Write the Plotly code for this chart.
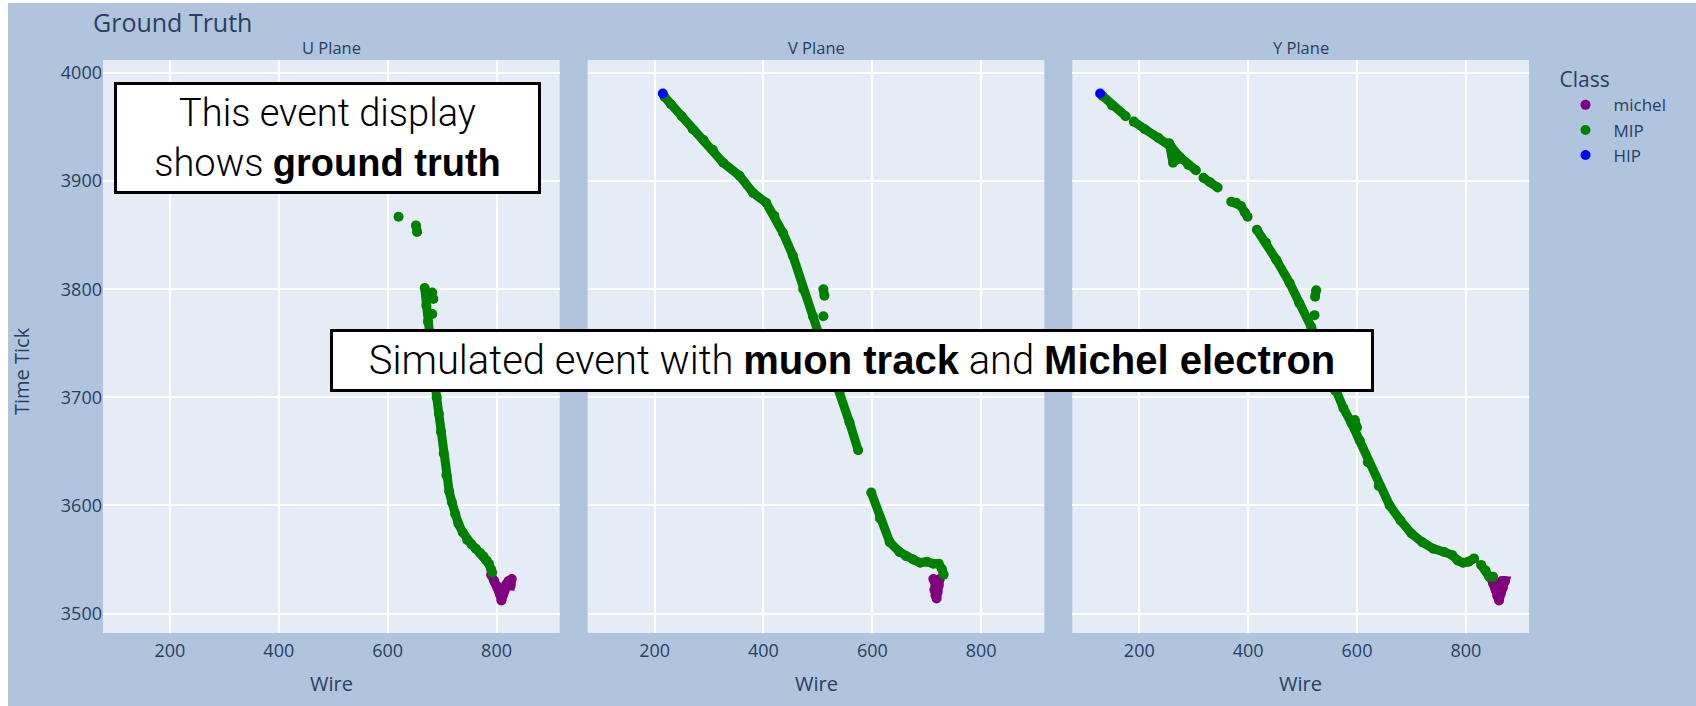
import plotly.graph_objects as go
from plotly.subplots import make_subplots

# ---------------- data (wire, time tick) ----------------
PLANES = ["U Plane", "V Plane", "Y Plane"]
CLASSES = ["michel", "MIP", "HIP"]
CLASS_COLORS = {"michel": "#800080", "MIP": "#008000", "HIP": "#0000FF"}

# U plane
U_MICHEL_WIRE = [790, 796, 802, 806, 809, 812, 816, 822, 828, 826, 818]
U_MICHEL_TIME = [3536, 3530, 3525, 3518, 3512, 3518, 3524, 3530, 3532, 3526, 3527]
U_MIP_WIRE = [620, None, 652, 654, None, 682, None, 684, None, 682, None,
              668, 671, 674, 678, 682, 686, 690, 694, 698, 703, 708, 713, 718, 724,
              730, 738, 746, 754, 762, 770, 776, 782, 786, 790, 792]
U_MIP_TIME = [3867, None, 3859, 3853, None, 3797, None, 3791, None, 3777, None,
              3801, 3785, 3770, 3750, 3730, 3715, 3700, 3685, 3668, 3648, 3628, 3613, 3603, 3592,
              3583, 3575, 3568, 3564, 3560, 3556, 3553, 3549, 3546, 3541, 3538]
U_HIP_WIRE = []
U_HIP_TIME = []

# V plane
V_MICHEL_WIRE = [712, 716, 714, 716, 718, 720, 722, 724]
V_MICHEL_TIME = [3532, 3527, 3522, 3517, 3514, 3520, 3526, 3532]
V_MIP_WIRE = [218, 230, 250, 270, 290, 307, 326, 356, 381, 405, 420, 436, 454, 473, 491,
              503, 515, 528, 540, 558, 574, None,
              598, 614, 632, 650, 662, 675, 688, 700, 712, 722, 728, 731, None,
              510, 512, None, 510]
V_MIP_TIME = [3978, 3971, 3960, 3948, 3938, 3929, 3917, 3905, 3889, 3880, 3868, 3852, 3831, 3800, 3775,
              3756, 3738, 3721, 3705, 3677, 3651, None,
              3612, 3588, 3566, 3557, 3553, 3550, 3547, 3548, 3546, 3546, 3541, 3536, None,
              3800, 3794, None, 3775]
V_HIP_WIRE = [215]
V_HIP_TIME = [3981]

# Y plane
Y_MICHEL_WIRE = [846, 850, 855, 858, 861, 864, 868, 872, 866]
Y_MICHEL_TIME = [3533, 3528, 3522, 3516, 3512, 3518, 3524, 3530, 3530]
Y_MIP_WIRE = [132, 150, 175, None,
              190, 210, 235, 258, 275, 290, 304, None,
              255, 261, 262, None, 270, None,
              318, 330, 344, None,
              369, 378, 387, 394, 399, None,
              416, 433, 452, 476, 494, 516, 530, 545, 560, 575, 590, 605, 620, 640, 660,
              680, 700, 720, 740, 760, 775, 785, 795, 805, 815, None,
              828, 836, 843, 850, None,
              525, 523, None, 522, None, 596, 600]
Y_MIP_TIME = [3979, 3970, 3960, None,
              3955, 3948, 3940, 3932, 3922, 3915, 3910, None,
              3935, 3923, 3917, None, 3920, None,
              3903, 3899, 3894, None,
              3881, 3880, 3877, 3871, 3867, None,
              3855, 3843, 3827, 3806, 3787, 3765, 3745, 3725, 3706, 3690, 3676, 3660, 3640, 3618, 3600,
              3586, 3574, 3566, 3560, 3557, 3554, 3549, 3547, 3548, 3551, None,
              3545, 3540, 3534, 3534, None,
              3799, 3793, None, 3776, None, 3679, 3672]
Y_HIP_WIRE = [128]
Y_HIP_TIME = [3981]

PANEL_DATA = [
    {"michel": (U_MICHEL_WIRE, U_MICHEL_TIME), "MIP": (U_MIP_WIRE, U_MIP_TIME), "HIP": (U_HIP_WIRE, U_HIP_TIME)},
    {"michel": (V_MICHEL_WIRE, V_MICHEL_TIME), "MIP": (V_MIP_WIRE, V_MIP_TIME), "HIP": (V_HIP_WIRE, V_HIP_TIME)},
    {"michel": (Y_MICHEL_WIRE, Y_MICHEL_TIME), "MIP": (Y_MIP_WIRE, Y_MIP_TIME), "HIP": (Y_HIP_WIRE, Y_HIP_TIME)},
]

X_RANGE = [77, 916]
Y_RANGE = [3482, 4012]

# ---------------- figure ----------------
# The page body is given a small white margin (8px left, 3px top) like the reference,
# so figure pixels are offset from window pixels by (OFFX, OFFY).
OFFX, OFFY = 8, 3
W, H = 1696 - OFFX, 706 - OFFY
ML, MR, MT, MB = 103 - OFFX, 167, 60 - OFFY, 73
PW = W - ML - MR
PH = H - MT - MB


def sx(p):  # window x (px) -> paper x
    return (p - OFFX - ML) / PW


def sy(p):  # window y (px) -> paper y
    return (MT + PH - (p - OFFY)) / PH


fig = make_subplots(rows=1, cols=3, shared_yaxes=True, horizontal_spacing=28 / PW)

MS = 10
legend_done = set()
for i, pdata in enumerate(PANEL_DATA):
    for cls in CLASSES:
        xs, ys = pdata[cls]
        col = CLASS_COLORS[cls]
        show = bool(xs) and cls not in legend_done
        if show:
            legend_done.add(cls)
        fig.add_trace(go.Scatter(x=xs, y=ys, mode="lines", line=dict(color=col, width=9),
                                 showlegend=False, hoverinfo="skip", legendgroup=cls,
                                 connectgaps=False), row=1, col=i + 1)
        fig.add_trace(go.Scatter(x=xs, y=ys, mode="markers", name=cls,
                                 marker=dict(color=col, size=MS),
                                 legendgroup=cls, showlegend=show,
                                 legendrank=CLASSES.index(cls) + 1), row=1, col=i + 1)

TICK_FONT = dict(family="Open Sans", size=18, color="#2a3f5f")
for i in range(3):
    fig.update_xaxes(range=X_RANGE, dtick=200, tick0=0, showgrid=True, gridcolor="white",
                     gridwidth=1.5, zeroline=False, tickfont=TICK_FONT, ticklabelstandoff=5,
                     row=1, col=i + 1)
fig.update_yaxes(range=Y_RANGE, dtick=100, tick0=0, showgrid=True, gridcolor="white",
                 gridwidth=1.5, zeroline=False, tickfont=TICK_FONT)

annotations = []
doms = [fig.layout.xaxis.domain, fig.layout.xaxis2.domain, fig.layout.xaxis3.domain]
for name, d in zip(PLANES, doms):
    cx = (d[0] + d[1]) / 2
    annotations.append(dict(text=name, x=cx, y=sy(47.5), xref="paper", yref="paper",
                            showarrow=False, xanchor="center", yanchor="middle",
                            font=dict(family="Open Sans", size=16.5, color="#2a3f5f")))
    annotations.append(dict(text="Wire", x=cx, y=sy(683), xref="paper", yref="paper",
                            showarrow=False, xanchor="center", yanchor="middle",
                            font=dict(family="Open Sans", size=20, color="#2a3f5f")))
annotations.append(dict(text="Time Tick", x=sx(22), y=sy(371), xref="paper", yref="paper",
                        showarrow=False, textangle=-90, xanchor="center", yanchor="middle",
                        font=dict(family="Open Sans", size=20, color="#2a3f5f")))

BOLD = "<b><span style='font-family:Liberation Sans, Arial, sans-serif'>{}</span></b>"
BOX_FAMILY = "Roboto, Liberation Sans, Arial, sans-serif"
annotations.append(dict(text="This event display<br>shows " + BOLD.format("ground truth"),
                        x=sx(114), y=sy(82), xref="paper", yref="paper",
                        xanchor="left", yanchor="top", showarrow=False, align="center", valign="middle",
                        width=421, height=106, bgcolor="white", bordercolor="black",
                        borderwidth=3, borderpad=0,
                        font=dict(family=BOX_FAMILY, size=38, color="black", weight=300)))
annotations.append(dict(text="Simulated event with " + BOLD.format("muon track") + " and "
                             + BOLD.format("Michel electron"),
                        x=sx(330), y=sy(329), xref="paper", yref="paper",
                        xanchor="left", yanchor="top", showarrow=False, align="center", valign="middle",
                        width=1038, height=57, bgcolor="white", bordercolor="black",
                        borderwidth=3, borderpad=0,
                        font=dict(family=BOX_FAMILY, size=40, color="black", weight=300)))

fig.update_layout(
    width=W, height=H, autosize=False,
    margin=dict(l=ML, r=MR, t=MT, b=MB),
    paper_bgcolor="#B0C4DE", plot_bgcolor="#E5ECF6",
    font=dict(family="Open Sans", color="#2a3f5f"),
    title=dict(text="Ground Truth", x=(93 - OFFX) / W, xref="container", xanchor="left",
               y=1 - (23.5 - OFFY) / H, yanchor="middle", font=dict(size=25, color="#2a3f5f")),
    legend=dict(title=dict(text="Class", font=dict(size=21, color="#2a3f5f")),
                font=dict(size=17, color="#2a3f5f"), x=1.02, y=1, xanchor="left", yanchor="top",
                bgcolor="rgba(0,0,0,0)", tracegroupgap=0, itemwidth=46),
    annotations=annotations,
)

fig.write_html("out.html", post_script="document.body.style.margin='%dpx 0 0 %dpx';" % (OFFY, OFFX))
